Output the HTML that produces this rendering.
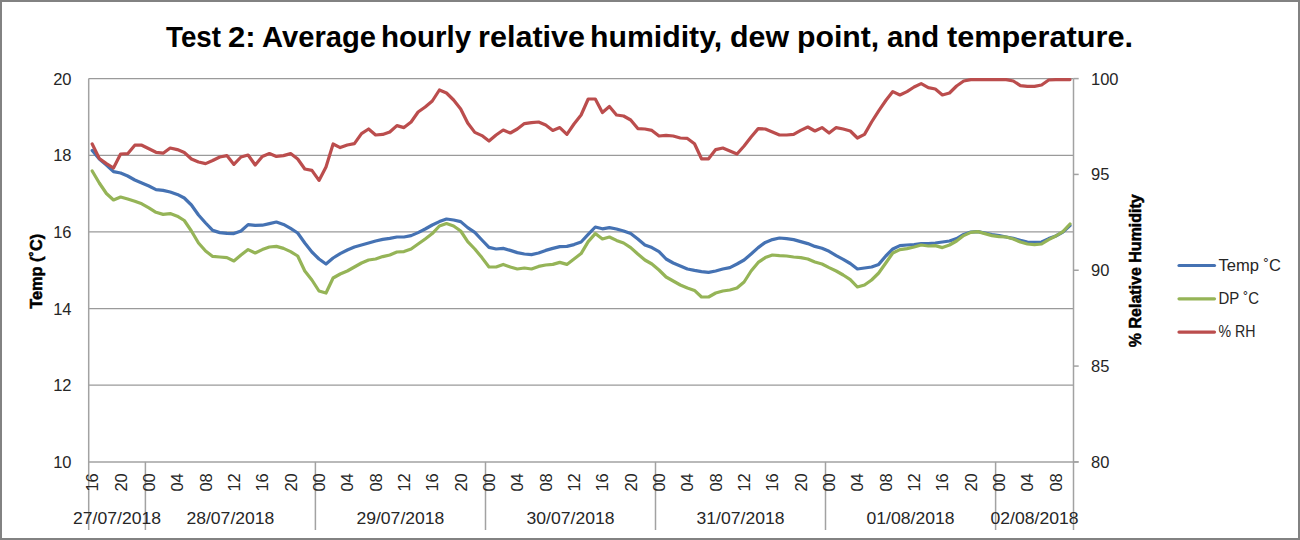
<!DOCTYPE html>
<html><head><meta charset="utf-8"><style>
html,body{margin:0;padding:0;background:#fff;}
svg{display:block;} text{font-family:"Liberation Sans",sans-serif;}
</style></head><body>
<svg width="1300" height="540" viewBox="0 0 1300 540">
<rect x="0" y="0" width="1300" height="540" fill="#fff"/>
<line x1="88.7" y1="385.24" x2="1073.5" y2="385.24" stroke="#9a9a9a" stroke-width="1.25"/>
<line x1="88.7" y1="308.58" x2="1073.5" y2="308.58" stroke="#9a9a9a" stroke-width="1.25"/>
<line x1="88.7" y1="231.92" x2="1073.5" y2="231.92" stroke="#9a9a9a" stroke-width="1.25"/>
<line x1="88.7" y1="155.26" x2="1073.5" y2="155.26" stroke="#9a9a9a" stroke-width="1.25"/>
<line x1="88.7" y1="78.60" x2="1073.5" y2="78.60" stroke="#9a9a9a" stroke-width="1.25"/>
<line x1="88.7" y1="78.60" x2="88.7" y2="530" stroke="#a2a2a2" stroke-width="1.5"/>
<line x1="1073.5" y1="78.60" x2="1073.5" y2="530" stroke="#a2a2a2" stroke-width="1.5"/>
<line x1="88.7" y1="461.90" x2="1078.5" y2="461.90" stroke="#a2a2a2" stroke-width="1.5"/>
<line x1="1073.5" y1="78.60" x2="1078.7" y2="78.60" stroke="#a2a2a2" stroke-width="1.5"/>
<line x1="1073.5" y1="174.42" x2="1078.7" y2="174.42" stroke="#a2a2a2" stroke-width="1.5"/>
<line x1="1073.5" y1="270.25" x2="1078.7" y2="270.25" stroke="#a2a2a2" stroke-width="1.5"/>
<line x1="1073.5" y1="366.07" x2="1078.7" y2="366.07" stroke="#a2a2a2" stroke-width="1.5"/>
<line x1="1073.5" y1="461.90" x2="1078.7" y2="461.90" stroke="#a2a2a2" stroke-width="1.5"/>
<line x1="145.4" y1="461.90" x2="145.4" y2="530" stroke="#a2a2a2" stroke-width="1.5"/>
<line x1="315.4" y1="461.90" x2="315.4" y2="530" stroke="#a2a2a2" stroke-width="1.5"/>
<line x1="485.5" y1="461.90" x2="485.5" y2="530" stroke="#a2a2a2" stroke-width="1.5"/>
<line x1="655.5" y1="461.90" x2="655.5" y2="530" stroke="#a2a2a2" stroke-width="1.5"/>
<line x1="825.5" y1="461.90" x2="825.5" y2="530" stroke="#a2a2a2" stroke-width="1.5"/>
<line x1="995.6" y1="461.90" x2="995.6" y2="530" stroke="#a2a2a2" stroke-width="1.5"/>
<path d="M92.2,150.5 L99.3,159.0 L106.4,165.0 L113.5,171.6 L120.6,173.0 L127.7,176.0 L134.8,180.0 L141.8,183.0 L148.9,186.0 L156.0,189.6 L163.1,190.4 L170.2,192.0 L177.3,194.4 L184.3,198.0 L191.4,205.0 L198.5,215.0 L205.6,223.0 L212.7,230.4 L219.8,232.6 L226.9,233.4 L233.9,233.6 L241.0,231.0 L248.1,224.6 L255.2,225.4 L262.3,225.2 L269.4,223.6 L276.4,222.0 L283.5,224.4 L290.6,228.4 L297.7,233.0 L304.8,243.0 L311.9,252.0 L319.0,259.0 L326.0,264.0 L333.1,258.0 L340.2,253.6 L347.3,250.0 L354.4,247.0 L361.5,245.0 L368.6,243.0 L375.6,241.0 L382.7,239.4 L389.8,238.4 L396.9,237.0 L404.0,237.0 L411.1,235.6 L418.1,232.6 L425.2,229.0 L432.3,225.0 L439.4,221.6 L446.5,219.0 L453.6,220.0 L460.7,221.6 L467.7,227.6 L474.8,232.4 L481.9,240.0 L489.0,247.4 L496.1,249.0 L503.2,248.4 L510.3,250.4 L517.3,252.6 L524.4,254.0 L531.5,254.6 L538.6,253.0 L545.7,250.4 L552.8,248.4 L559.8,246.6 L566.9,246.4 L574.0,244.6 L581.1,242.0 L588.2,234.4 L595.3,227.0 L602.4,228.8 L609.4,227.6 L616.5,229.0 L623.6,231.0 L630.7,233.6 L637.8,239.0 L644.9,245.0 L651.9,247.6 L659.0,251.6 L666.1,259.0 L673.2,263.0 L680.3,266.0 L687.4,269.0 L694.5,270.4 L701.5,271.6 L708.6,272.4 L715.7,271.0 L722.8,269.0 L729.9,267.6 L737.0,264.0 L744.1,260.0 L751.1,254.0 L758.2,247.6 L765.3,242.4 L772.4,239.6 L779.5,238.0 L786.6,238.6 L793.6,239.6 L800.7,241.6 L807.8,243.6 L814.9,246.4 L822.0,248.3 L829.1,251.3 L836.2,255.6 L843.2,259.3 L850.3,263.5 L857.4,269.0 L864.5,268.0 L871.6,267.0 L878.7,264.4 L885.8,256.0 L892.8,249.0 L899.9,245.6 L907.0,245.0 L914.1,244.6 L921.2,243.6 L928.3,243.6 L935.3,243.0 L942.4,242.0 L949.5,241.0 L956.6,238.6 L963.7,234.4 L970.8,232.0 L977.9,231.6 L984.9,233.0 L992.0,234.6 L999.1,235.6 L1006.2,237.0 L1013.3,238.4 L1020.4,240.4 L1027.4,242.0 L1034.5,242.4 L1041.6,242.0 L1048.7,238.6 L1055.8,236.0 L1062.9,232.0 L1070.0,225.6" fill="none" stroke="#4572b3" stroke-width="3.2" stroke-linejoin="round" stroke-linecap="round"/>
<path d="M92.2,171.0 L99.3,183.0 L106.4,193.5 L113.5,200.0 L120.6,197.0 L127.7,199.0 L134.8,201.3 L141.8,203.8 L148.9,207.8 L156.0,212.3 L163.1,214.4 L170.2,213.6 L177.3,216.2 L184.3,220.5 L191.4,231.0 L198.5,243.0 L205.6,251.0 L212.7,256.4 L219.8,257.0 L226.9,257.6 L233.9,261.0 L241.0,255.0 L248.1,249.6 L255.2,253.0 L262.3,249.6 L269.4,247.0 L276.4,246.4 L283.5,248.4 L290.6,251.6 L297.7,256.0 L304.8,271.0 L311.9,280.0 L319.0,291.0 L326.0,293.0 L333.1,278.0 L340.2,274.0 L347.3,271.0 L354.4,267.0 L361.5,263.0 L368.6,260.0 L375.6,259.0 L382.7,256.6 L389.8,255.0 L396.9,252.0 L404.0,251.6 L411.1,249.0 L418.1,244.0 L425.2,239.0 L432.3,233.6 L439.4,226.0 L446.5,223.6 L453.6,226.0 L460.7,231.0 L467.7,241.6 L474.8,249.0 L481.9,257.6 L489.0,267.0 L496.1,267.0 L503.2,264.4 L510.3,267.0 L517.3,269.0 L524.4,268.0 L531.5,269.0 L538.6,266.4 L545.7,265.0 L552.8,264.4 L559.8,262.4 L566.9,264.4 L574.0,259.0 L581.1,253.6 L588.2,241.6 L595.3,233.6 L602.4,239.0 L609.4,237.0 L616.5,240.4 L623.6,243.0 L630.7,247.6 L637.8,254.0 L644.9,260.0 L651.9,264.0 L659.0,270.0 L666.1,277.0 L673.2,281.0 L680.3,285.0 L687.4,288.0 L694.5,290.4 L701.5,297.0 L708.6,297.0 L715.7,293.0 L722.8,291.0 L729.9,290.0 L737.0,288.0 L744.1,282.0 L751.1,271.0 L758.2,262.4 L765.3,257.6 L772.4,255.0 L779.5,255.6 L786.6,256.0 L793.6,257.0 L800.7,257.6 L807.8,259.0 L814.9,262.0 L822.0,264.0 L829.1,267.6 L836.2,271.0 L843.2,275.0 L850.3,279.6 L857.4,287.0 L864.5,285.0 L871.6,280.0 L878.7,273.0 L885.8,263.0 L892.8,253.0 L899.9,249.6 L907.0,248.6 L914.1,247.0 L921.2,245.0 L928.3,246.0 L935.3,245.6 L942.4,247.6 L949.5,245.0 L956.6,241.0 L963.7,235.6 L970.8,232.4 L977.9,231.6 L984.9,233.6 L992.0,235.6 L999.1,236.6 L1006.2,237.0 L1013.3,239.0 L1020.4,242.0 L1027.4,244.0 L1034.5,244.6 L1041.6,244.0 L1048.7,239.6 L1055.8,236.0 L1062.9,231.6 L1070.0,224.0" fill="none" stroke="#95b457" stroke-width="3.2" stroke-linejoin="round" stroke-linecap="round"/>
<path d="M92.2,144.0 L99.3,158.5 L106.4,163.6 L113.5,168.0 L120.6,154.0 L127.7,153.7 L134.8,145.2 L141.8,145.2 L148.9,148.8 L156.0,152.3 L163.1,153.2 L170.2,148.0 L177.3,149.6 L184.3,152.5 L191.4,159.0 L198.5,162.0 L205.6,163.6 L212.7,160.5 L219.8,157.0 L226.9,155.6 L233.9,164.4 L241.0,157.0 L248.1,155.0 L255.2,165.0 L262.3,156.4 L269.4,153.6 L276.4,156.4 L283.5,155.6 L290.6,153.6 L297.7,159.0 L304.8,169.0 L311.9,170.4 L319.0,180.4 L326.0,167.0 L333.1,144.0 L340.2,147.6 L347.3,145.0 L354.4,143.6 L361.5,133.6 L368.6,129.0 L375.6,135.0 L382.7,134.4 L389.8,132.0 L396.9,125.6 L404.0,127.6 L411.1,122.0 L418.1,112.0 L425.2,107.0 L432.3,101.0 L439.4,90.0 L446.5,93.0 L453.6,100.0 L460.7,109.0 L467.7,123.0 L474.8,132.4 L481.9,135.6 L489.0,141.0 L496.1,135.0 L503.2,130.0 L510.3,133.0 L517.3,129.0 L524.4,123.6 L531.5,122.6 L538.6,122.0 L545.7,125.0 L552.8,130.4 L559.8,127.6 L566.9,134.4 L574.0,124.0 L581.1,115.0 L588.2,99.0 L595.3,99.0 L602.4,112.5 L609.4,106.5 L616.5,115.0 L623.6,116.0 L630.7,120.0 L637.8,128.6 L644.9,129.0 L651.9,130.4 L659.0,136.0 L666.1,135.4 L673.2,136.0 L680.3,138.0 L687.4,138.4 L694.5,143.8 L701.5,158.8 L708.6,158.8 L715.7,149.6 L722.8,148.0 L729.9,151.0 L737.0,154.0 L744.1,146.0 L751.1,137.0 L758.2,128.6 L765.3,129.0 L772.4,132.0 L779.5,135.0 L786.6,135.0 L793.6,134.4 L800.7,130.4 L807.8,127.0 L814.9,131.0 L822.0,127.6 L829.1,133.0 L836.2,127.6 L843.2,129.0 L850.3,131.0 L857.4,138.0 L864.5,134.4 L871.6,122.0 L878.7,110.8 L885.8,100.5 L892.8,91.6 L899.9,95.0 L907.0,91.6 L914.1,87.0 L921.2,83.6 L928.3,87.6 L935.3,89.0 L942.4,95.0 L949.5,93.0 L956.6,86.0 L963.7,81.0 L970.8,79.6 L977.9,79.6 L984.9,79.6 L992.0,79.6 L999.1,79.6 L1006.2,79.6 L1013.3,81.0 L1020.4,85.6 L1027.4,86.4 L1034.5,86.4 L1041.6,85.0 L1048.7,80.0 L1055.8,79.6 L1062.9,79.6 L1070.0,79.6" fill="none" stroke="#bb4d4d" stroke-width="3.2" stroke-linejoin="round" stroke-linecap="round"/>
<text x="166.00" y="46.8" font-family="Liberation Sans, sans-serif" font-weight="bold" font-size="29.5" fill="#000" textLength="55.01" lengthAdjust="spacingAndGlyphs">Test</text>
<text x="228.00" y="46.8" font-family="Liberation Sans, sans-serif" font-weight="bold" font-size="29.5" fill="#000" textLength="27.65" lengthAdjust="spacingAndGlyphs">2:</text>
<text x="262.00" y="46.8" font-family="Liberation Sans, sans-serif" font-weight="bold" font-size="29.5" fill="#000" textLength="114.04" lengthAdjust="spacingAndGlyphs">Average</text>
<text x="381.00" y="46.8" font-family="Liberation Sans, sans-serif" font-weight="bold" font-size="29.5" fill="#000" textLength="90.12" lengthAdjust="spacingAndGlyphs">hourly</text>
<text x="478.00" y="46.8" font-family="Liberation Sans, sans-serif" font-weight="bold" font-size="29.5" fill="#000" textLength="107.09" lengthAdjust="spacingAndGlyphs">relative</text>
<text x="590.00" y="46.8" font-family="Liberation Sans, sans-serif" font-weight="bold" font-size="29.5" fill="#000" textLength="132.13" lengthAdjust="spacingAndGlyphs">humidity,</text>
<text x="730.00" y="46.8" font-family="Liberation Sans, sans-serif" font-weight="bold" font-size="29.5" fill="#000" textLength="59.02" lengthAdjust="spacingAndGlyphs">dew</text>
<text x="797.00" y="46.8" font-family="Liberation Sans, sans-serif" font-weight="bold" font-size="29.5" fill="#000" textLength="82.22" lengthAdjust="spacingAndGlyphs">point,</text>
<text x="887.00" y="46.8" font-family="Liberation Sans, sans-serif" font-weight="bold" font-size="29.5" fill="#000" textLength="52.14" lengthAdjust="spacingAndGlyphs">and</text>
<text x="947.00" y="46.8" font-family="Liberation Sans, sans-serif" font-weight="bold" font-size="29.5" fill="#000" textLength="186.02" lengthAdjust="spacingAndGlyphs">temperature.</text>
<text x="71.5" y="467.9" font-family="Liberation Sans, sans-serif" font-size="16.5" fill="#262626" text-anchor="end">10</text>
<text x="71.5" y="391.2" font-family="Liberation Sans, sans-serif" font-size="16.5" fill="#262626" text-anchor="end">12</text>
<text x="71.5" y="314.6" font-family="Liberation Sans, sans-serif" font-size="16.5" fill="#262626" text-anchor="end">14</text>
<text x="71.5" y="237.9" font-family="Liberation Sans, sans-serif" font-size="16.5" fill="#262626" text-anchor="end">16</text>
<text x="71.5" y="161.3" font-family="Liberation Sans, sans-serif" font-size="16.5" fill="#262626" text-anchor="end">18</text>
<text x="71.5" y="84.6" font-family="Liberation Sans, sans-serif" font-size="16.5" fill="#262626" text-anchor="end">20</text>
<text x="1091" y="84.6" font-family="Liberation Sans, sans-serif" font-size="16.5" fill="#262626">100</text>
<text x="1091" y="180.4" font-family="Liberation Sans, sans-serif" font-size="16.5" fill="#262626">95</text>
<text x="1091" y="276.2" font-family="Liberation Sans, sans-serif" font-size="16.5" fill="#262626">90</text>
<text x="1091" y="372.1" font-family="Liberation Sans, sans-serif" font-size="16.5" fill="#262626">85</text>
<text x="1091" y="467.9" font-family="Liberation Sans, sans-serif" font-size="16.5" fill="#262626">80</text>
<text transform="translate(98.2,473.2) rotate(-90)" font-family="Liberation Sans, sans-serif" font-size="16.5" fill="#262626" text-anchor="end">16</text>
<text transform="translate(126.6,473.2) rotate(-90)" font-family="Liberation Sans, sans-serif" font-size="16.5" fill="#262626" text-anchor="end">20</text>
<text transform="translate(154.9,473.2) rotate(-90)" font-family="Liberation Sans, sans-serif" font-size="16.5" fill="#262626" text-anchor="end">00</text>
<text transform="translate(183.3,473.2) rotate(-90)" font-family="Liberation Sans, sans-serif" font-size="16.5" fill="#262626" text-anchor="end">04</text>
<text transform="translate(211.6,473.2) rotate(-90)" font-family="Liberation Sans, sans-serif" font-size="16.5" fill="#262626" text-anchor="end">08</text>
<text transform="translate(239.9,473.2) rotate(-90)" font-family="Liberation Sans, sans-serif" font-size="16.5" fill="#262626" text-anchor="end">12</text>
<text transform="translate(268.3,473.2) rotate(-90)" font-family="Liberation Sans, sans-serif" font-size="16.5" fill="#262626" text-anchor="end">16</text>
<text transform="translate(296.6,473.2) rotate(-90)" font-family="Liberation Sans, sans-serif" font-size="16.5" fill="#262626" text-anchor="end">20</text>
<text transform="translate(325.0,473.2) rotate(-90)" font-family="Liberation Sans, sans-serif" font-size="16.5" fill="#262626" text-anchor="end">00</text>
<text transform="translate(353.3,473.2) rotate(-90)" font-family="Liberation Sans, sans-serif" font-size="16.5" fill="#262626" text-anchor="end">04</text>
<text transform="translate(381.6,473.2) rotate(-90)" font-family="Liberation Sans, sans-serif" font-size="16.5" fill="#262626" text-anchor="end">08</text>
<text transform="translate(410.0,473.2) rotate(-90)" font-family="Liberation Sans, sans-serif" font-size="16.5" fill="#262626" text-anchor="end">12</text>
<text transform="translate(438.3,473.2) rotate(-90)" font-family="Liberation Sans, sans-serif" font-size="16.5" fill="#262626" text-anchor="end">16</text>
<text transform="translate(466.7,473.2) rotate(-90)" font-family="Liberation Sans, sans-serif" font-size="16.5" fill="#262626" text-anchor="end">20</text>
<text transform="translate(495.0,473.2) rotate(-90)" font-family="Liberation Sans, sans-serif" font-size="16.5" fill="#262626" text-anchor="end">00</text>
<text transform="translate(523.3,473.2) rotate(-90)" font-family="Liberation Sans, sans-serif" font-size="16.5" fill="#262626" text-anchor="end">04</text>
<text transform="translate(551.7,473.2) rotate(-90)" font-family="Liberation Sans, sans-serif" font-size="16.5" fill="#262626" text-anchor="end">08</text>
<text transform="translate(580.0,473.2) rotate(-90)" font-family="Liberation Sans, sans-serif" font-size="16.5" fill="#262626" text-anchor="end">12</text>
<text transform="translate(608.4,473.2) rotate(-90)" font-family="Liberation Sans, sans-serif" font-size="16.5" fill="#262626" text-anchor="end">16</text>
<text transform="translate(636.7,473.2) rotate(-90)" font-family="Liberation Sans, sans-serif" font-size="16.5" fill="#262626" text-anchor="end">20</text>
<text transform="translate(665.0,473.2) rotate(-90)" font-family="Liberation Sans, sans-serif" font-size="16.5" fill="#262626" text-anchor="end">00</text>
<text transform="translate(693.4,473.2) rotate(-90)" font-family="Liberation Sans, sans-serif" font-size="16.5" fill="#262626" text-anchor="end">04</text>
<text transform="translate(721.7,473.2) rotate(-90)" font-family="Liberation Sans, sans-serif" font-size="16.5" fill="#262626" text-anchor="end">08</text>
<text transform="translate(750.1,473.2) rotate(-90)" font-family="Liberation Sans, sans-serif" font-size="16.5" fill="#262626" text-anchor="end">12</text>
<text transform="translate(778.4,473.2) rotate(-90)" font-family="Liberation Sans, sans-serif" font-size="16.5" fill="#262626" text-anchor="end">16</text>
<text transform="translate(806.7,473.2) rotate(-90)" font-family="Liberation Sans, sans-serif" font-size="16.5" fill="#262626" text-anchor="end">20</text>
<text transform="translate(835.1,473.2) rotate(-90)" font-family="Liberation Sans, sans-serif" font-size="16.5" fill="#262626" text-anchor="end">00</text>
<text transform="translate(863.4,473.2) rotate(-90)" font-family="Liberation Sans, sans-serif" font-size="16.5" fill="#262626" text-anchor="end">04</text>
<text transform="translate(891.8,473.2) rotate(-90)" font-family="Liberation Sans, sans-serif" font-size="16.5" fill="#262626" text-anchor="end">08</text>
<text transform="translate(920.1,473.2) rotate(-90)" font-family="Liberation Sans, sans-serif" font-size="16.5" fill="#262626" text-anchor="end">12</text>
<text transform="translate(948.4,473.2) rotate(-90)" font-family="Liberation Sans, sans-serif" font-size="16.5" fill="#262626" text-anchor="end">16</text>
<text transform="translate(976.8,473.2) rotate(-90)" font-family="Liberation Sans, sans-serif" font-size="16.5" fill="#262626" text-anchor="end">20</text>
<text transform="translate(1005.1,473.2) rotate(-90)" font-family="Liberation Sans, sans-serif" font-size="16.5" fill="#262626" text-anchor="end">00</text>
<text transform="translate(1033.4,473.2) rotate(-90)" font-family="Liberation Sans, sans-serif" font-size="16.5" fill="#262626" text-anchor="end">04</text>
<text transform="translate(1061.8,473.2) rotate(-90)" font-family="Liberation Sans, sans-serif" font-size="16.5" fill="#262626" text-anchor="end">08</text>
<text x="117.0" y="524" font-family="Liberation Sans, sans-serif" font-size="16.5" fill="#262626" text-anchor="middle" textLength="88" lengthAdjust="spacingAndGlyphs">27/07/2018</text>
<text x="230.4" y="524" font-family="Liberation Sans, sans-serif" font-size="16.5" fill="#262626" text-anchor="middle" textLength="88" lengthAdjust="spacingAndGlyphs">28/07/2018</text>
<text x="400.4" y="524" font-family="Liberation Sans, sans-serif" font-size="16.5" fill="#262626" text-anchor="middle" textLength="88" lengthAdjust="spacingAndGlyphs">29/07/2018</text>
<text x="570.5" y="524" font-family="Liberation Sans, sans-serif" font-size="16.5" fill="#262626" text-anchor="middle" textLength="88" lengthAdjust="spacingAndGlyphs">30/07/2018</text>
<text x="740.5" y="524" font-family="Liberation Sans, sans-serif" font-size="16.5" fill="#262626" text-anchor="middle" textLength="88" lengthAdjust="spacingAndGlyphs">31/07/2018</text>
<text x="910.5" y="524" font-family="Liberation Sans, sans-serif" font-size="16.5" fill="#262626" text-anchor="middle" textLength="88" lengthAdjust="spacingAndGlyphs">01/08/2018</text>
<text x="1034.5" y="524" font-family="Liberation Sans, sans-serif" font-size="16.5" fill="#262626" text-anchor="middle" textLength="88" lengthAdjust="spacingAndGlyphs">02/08/2018</text>
<text transform="translate(41.8,271.3) rotate(-90)" font-family="Liberation Sans, sans-serif" font-weight="bold" font-size="16.5" textLength="75" lengthAdjust="spacingAndGlyphs" fill="#000" stroke="#000" stroke-width="0.5" text-anchor="middle">Temp (˚C)</text>
<text transform="translate(1141.4,270.7) rotate(-90)" font-family="Liberation Sans, sans-serif" font-weight="bold" font-size="16" fill="#000" stroke="#000" stroke-width="0.5" text-anchor="middle">% Relative Humidity</text>
<line x1="1179" y1="265.5" x2="1214.5" y2="265.5" stroke="#4572b3" stroke-width="3.2" stroke-linecap="round"/>
<text x="1218.5" y="270.8" font-family="Liberation Sans, sans-serif" font-size="16.5" fill="#262626" textLength="62.5" lengthAdjust="spacingAndGlyphs">Temp ˚C</text>
<line x1="1179" y1="298.8" x2="1214.5" y2="298.8" stroke="#95b457" stroke-width="3.2" stroke-linecap="round"/>
<text x="1218.5" y="304.1" font-family="Liberation Sans, sans-serif" font-size="16.5" fill="#262626" textLength="40.5" lengthAdjust="spacingAndGlyphs">DP ˚C</text>
<line x1="1179" y1="332.1" x2="1214.5" y2="332.1" stroke="#bb4d4d" stroke-width="3.2" stroke-linecap="round"/>
<text x="1218.5" y="337.4" font-family="Liberation Sans, sans-serif" font-size="16.5" fill="#262626" textLength="37" lengthAdjust="spacingAndGlyphs">% RH</text>
<rect x="1" y="1" width="1298" height="538" fill="none" stroke="#828282" stroke-width="2"/>
</svg>
</body></html>
